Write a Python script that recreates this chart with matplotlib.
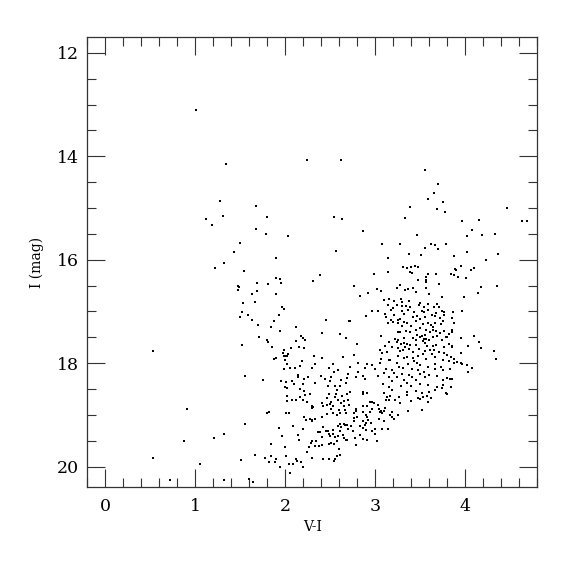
import matplotlib
matplotlib.use("Agg")
import matplotlib.pyplot as plt
from matplotlib.ticker import MultipleLocator
import numpy as np

# (V-I, I) pairs, grouped by region of the diagram
blue_sparse = [
    (1.008, 13.10), (1.338, 14.15), (1.271, 14.856), (1.115, 15.211), (1.308, 15.146),
    (1.189, 15.333), (1.501, 15.682), (1.427, 15.856), (1.315, 16.068), (1.215, 16.152),
    (1.538, 16.210), (1.478, 16.50), (1.486, 16.526), (1.471, 16.584),
    (1.530, 16.842), (1.523, 17.004), (1.497, 17.107), (1.589, 17.068), (0.527, 17.771),
    (1.519, 17.648), (1.549, 18.242), (0.904, 18.880), (1.556, 19.176), (1.208, 19.441),
    (1.315, 19.363), (0.871, 19.499), (0.527, 19.840), (1.508, 19.866), (1.049, 19.950),
    (0.723, 20.253), (1.319, 20.266), (1.601, 20.247),
]

upper_mid = [
    (2.245, 14.070), (2.619, 14.070), (1.675, 14.953), (1.797, 15.166), (2.545, 15.166),
    (2.634, 15.217), (1.675, 15.404), (1.786, 15.507), (2.034, 15.533), (2.560, 15.836),
    (1.901, 15.965), (2.386, 16.300), (2.315, 16.404), (1.901, 16.358), (1.941, 16.378),
    (1.689, 16.455), (1.808, 16.468), (1.952, 16.449), (2.766, 16.50),
]

upper_red = [
    (3.560, 14.269), (3.697, 14.540), (3.652, 14.708), (3.589, 14.830), (3.760, 14.888),
    (3.386, 14.978), (3.686, 15.017), (3.778, 15.069), (4.471, 15.004), (3.330, 15.198),
    (3.971, 15.249), (4.156, 15.230), (4.637, 15.249), (4.686, 15.249), (4.074, 15.423),
    (2.867, 15.443), (3.463, 15.527), (4.023, 15.546), (4.186, 15.527), (4.337, 15.494),
    (3.078, 15.700), (3.278, 15.688), (3.619, 15.700), (3.663, 15.707), (3.552, 15.765),
    (3.697, 15.784), (3.789, 15.688), (3.145, 15.971), (3.374, 15.894), (3.515, 15.913),
    (3.874, 15.926), (4.019, 15.849), (4.363, 15.887), (4.230, 16.010), (2.993, 16.268),
    (3.145, 16.242), (3.311, 16.132), (3.360, 16.152), (3.397, 16.145), (3.441, 16.113),
    (3.478, 16.132), (3.393, 16.236), (3.415, 16.249), (3.482, 16.397), (3.563, 16.326),
    (3.593, 16.268), (3.567, 16.390), (3.571, 16.429), (3.678, 16.281), (3.708, 16.474),
    (3.841, 16.268), (3.874, 16.287), (3.886, 16.178), (3.900, 16.197), (3.923, 16.326),
    (3.956, 16.126), (4.008, 16.352), (4.063, 16.203), (4.097, 16.165), (3.249, 16.539),
    (3.274, 16.494), (3.563, 16.539), (4.174, 16.532), (4.352, 16.513),
]

mid_branch = [
    (1.682, 16.603), (1.630, 16.655), (1.893, 16.661), (1.664, 16.822), (1.964, 16.906),
    (1.982, 16.958), (1.927, 17.061), (1.634, 17.164), (1.875, 17.190), (2.456, 17.170),
    (2.712, 17.190), (1.697, 17.254), (1.845, 17.293), (2.119, 17.299), (1.938, 17.370),
    (2.415, 17.422), (2.615, 17.428), (1.708, 17.486), (2.171, 17.467), (2.193, 17.512),
    (2.219, 17.551), (1.801, 17.557), (1.804, 17.583), (2.119, 17.570), (2.671, 17.506),
    (1.849, 17.693), (2.060, 17.712), (2.149, 17.686), (2.208, 17.706), (1.982, 17.744),
    (1.975, 17.809), (2.034, 17.822), (1.989, 17.860), (2.004, 17.867), (2.019, 17.854),
    (2.323, 17.860), (2.408, 17.899), (2.641, 17.873), (1.897, 17.899), (1.875, 17.925),
    (2.001, 17.931), (2.189, 17.957), (2.015, 18.015), (2.334, 18.009), (2.530, 18.021),
    (2.164, 18.047), (2.115, 18.092), (2.052, 18.099), (1.989, 18.105), (2.293, 18.099),
    (2.489, 18.099), (2.586, 18.131), (2.719, 18.073), (2.538, 18.176), (2.704, 18.208),
    (2.141, 18.234), (2.138, 18.266), (2.393, 18.254), (2.252, 18.273), (2.445, 18.299),
    (2.215, 18.312), (2.686, 18.292), (2.508, 18.273), (1.756, 18.325), (1.952, 18.350),
    (2.008, 18.370), (2.071, 18.350), (2.093, 18.395), (2.334, 18.389), (2.193, 18.395),
    (2.504, 18.337), (2.623, 18.325), (2.675, 18.383), (2.001, 18.460), (2.471, 18.434),
    (2.549, 18.434), (2.608, 18.441),
]

red_clump = [
    (2.92, 16.64), (3.02, 16.56), (3.07, 16.61), (3.33, 16.58), (3.37, 16.56),
    (3.42, 16.55), (3.46, 16.63), (3.60, 16.66), (2.83, 16.71),
    (3.10, 16.77), (3.16, 16.76), (3.21, 16.80), (3.29, 16.76), (3.30, 16.82),
    (3.38, 16.80), (3.50, 16.83), (3.59, 16.86), (3.69, 16.85), (3.74, 16.73),
    (3.14, 16.87), (3.24, 16.87), (3.30, 16.89), (3.34, 16.90), (3.39, 16.91),
    (3.49, 16.87), (3.54, 16.92), (3.65, 16.91), (3.71, 16.92), (3.20, 16.93),
    (2.96, 17.00), (3.03, 17.00), (3.18, 16.98), (3.30, 17.00), (3.37, 16.98),
    (3.43, 17.02), (3.52, 17.00), (3.54, 17.02), (3.59, 16.97), (3.68, 17.03),
    (3.74, 17.00), (2.90, 17.09), (3.11, 17.05), (3.21, 17.06), (3.32, 17.05),
    (3.47, 17.09), (3.63, 17.06), (3.12, 17.11), (3.18, 17.16), (3.25, 17.16),
    (3.28, 17.14), (3.42, 17.11), (3.50, 17.14), (3.56, 17.11), (3.67, 17.09),
    (3.72, 17.13), (3.76, 17.18),
    (2.72, 17.19), (3.14, 17.22), (3.20, 17.20), (3.26, 17.22), (3.32, 17.20),
    (3.36, 17.23), (3.45, 17.18), (3.53, 17.24), (3.59, 17.22), (3.62, 17.27),
    (3.67, 17.22), (3.73, 17.25), (3.30, 17.29), (3.40, 17.29), (3.50, 17.32),
    (3.64, 17.31), (3.25, 17.39), (3.28, 17.40), (3.34, 17.38), (3.39, 17.40),
    (3.46, 17.36), (3.57, 17.35), (3.61, 17.40), (3.64, 17.36), (3.68, 17.38),
    (3.72, 17.42), (3.55, 17.45), (3.47, 17.45), (3.52, 17.48),
    (3.07, 17.48), (3.22, 17.53), (3.26, 17.56), (3.32, 17.51), (3.42, 17.51),
    (3.45, 17.55), (3.50, 17.50), (3.53, 17.58), (3.57, 17.53), (3.60, 17.56),
    (3.64, 17.49), (3.69, 17.48), (3.74, 17.56), (3.54, 17.54), (2.80, 17.63),
    (3.16, 17.60), (3.24, 17.60), (3.29, 17.63), (3.32, 17.61), (3.35, 17.63),
    (3.39, 17.64), (3.45, 17.65), (3.55, 17.61), (3.58, 17.67), (3.64, 17.67),
    (3.68, 17.64), (3.11, 17.66), (3.19, 17.68), (3.33, 17.69),
    (3.05, 17.74), (3.13, 17.78), (3.25, 17.71), (3.28, 17.77), (3.31, 17.74),
    (3.38, 17.72), (3.42, 17.78), (3.49, 17.73), (3.55, 17.76), (3.61, 17.75),
    (3.66, 17.74), (3.71, 17.79), (3.08, 17.81), (3.53, 17.82), (3.63, 17.82),
    (2.76, 17.85), (3.07, 17.91), (3.15, 17.93), (3.17, 17.93), (3.26, 17.87),
    (3.32, 17.90), (3.36, 17.88), (3.42, 17.90), (3.48, 17.87), (3.57, 17.91),
    (3.67, 17.88), (3.76, 17.93), (3.43, 17.96),
    (2.81, 17.995), (2.91, 18.02), (2.96, 18.03), (3.05, 18.00), (3.24, 17.99),
    (3.37, 18.02), (3.47, 18.00), (3.50, 18.04), (3.59, 18.07), (3.67, 18.02),
    (3.73, 18.08), (3.27, 18.07), (2.72, 18.07), (2.89, 18.09), (3.00, 18.12),
    (3.12, 18.12), (3.19, 18.14), (3.31, 18.09), (3.41, 18.11), (3.48, 18.13),
    (3.54, 18.17), (3.67, 18.11), (3.76, 18.14), (2.81, 18.18), (3.10, 18.19),
    (3.21, 18.19), (3.30, 18.21), (3.38, 18.22), (3.50, 18.21), (3.60, 18.22),
    (2.79, 18.27), (2.89, 18.30), (3.03, 18.25), (3.15, 18.26), (3.24, 18.27),
    (3.41, 18.27), (3.46, 18.32), (3.56, 18.26), (3.69, 18.24), (3.76, 18.32),
    (3.32, 18.32), (2.87, 18.25), (3.09, 18.40), (3.15, 18.46), (3.19, 18.35),
    (3.29, 18.45), (3.36, 18.38), (3.40, 18.45), (3.50, 18.40), (3.59, 18.43),
    (3.69, 18.47), (3.75, 18.42),
]

red_edge = [
    (4.14, 16.65), (3.99, 16.72), (3.87, 17.02), (3.97, 17.00), (3.77, 17.02),
    (3.77, 17.06), (3.85, 17.13), (3.88, 17.22), (3.86, 17.36), (3.86, 17.39),
    (3.77, 17.38), (3.82, 17.43), (3.79, 17.49), (3.80, 17.50), (4.10, 17.47),
    (3.95, 17.51), (4.16, 17.60), (4.03, 17.66), (4.18, 17.71), (4.32, 17.76),
    (3.82, 17.62), (3.85, 17.67), (3.86, 17.69), (3.77, 17.68), (3.77, 17.80),
    (3.95, 17.80), (3.80, 17.85), (3.84, 17.89), (3.88, 17.92), (4.34, 17.92),
    (3.82, 17.96), (3.91, 17.98), (3.88, 18.00), (3.95, 17.995), (3.97, 18.02),
    (4.02, 18.04), (4.08, 18.09), (3.83, 18.11), (4.03, 18.17), (3.80, 18.29),
    (3.83, 18.31), (3.85, 18.30), (3.84, 18.47), (3.79, 18.58), (3.80, 18.60),
]

lower_mid = [
    (2.015, 18.48), (2.164, 18.49), (2.208, 18.53), (2.275, 18.60), (2.219, 18.62),
    (2.019, 18.63), (2.015, 18.73), (2.075, 18.71), (2.119, 18.71), (2.164, 18.66),
    (2.201, 18.72), (2.245, 18.75), (2.301, 18.83), (2.293, 18.87), (2.312, 18.85),
    (1.793, 18.97), (1.819, 18.95), (2.004, 18.97), (2.038, 18.96), (2.415, 18.77),
    (2.426, 18.82), (2.460, 18.80), (2.497, 18.79), (2.515, 18.76), (2.534, 18.82),
    (2.467, 18.67), (2.482, 18.60), (2.564, 18.60), (2.552, 18.66), (2.589, 18.72),
    (2.626, 18.77), (2.652, 18.82), (2.656, 18.74), (2.700, 18.72), (2.630, 18.63),
    (2.689, 18.60), (2.575, 18.51), (2.508, 18.88), (2.527, 18.96), (2.597, 18.91),
    (2.615, 18.96), (2.578, 19.00), (2.664, 18.91), (2.682, 18.96), (2.212, 19.05),
    (2.230, 19.10), (2.271, 19.07), (2.301, 19.10), (2.334, 19.08), (2.301, 19.12),
    (2.412, 19.05), (2.460, 18.98), (2.712, 18.80), (2.089, 19.22), (2.193, 19.27),
    (1.934, 19.25), (1.967, 19.40), (2.141, 19.38), (2.156, 19.49), (2.367, 19.33),
    (2.389, 19.34), (2.415, 19.43), (2.452, 19.31), (2.478, 19.31), (2.489, 19.36),
    (2.527, 19.37), (2.527, 19.29), (2.497, 19.41), (2.549, 19.43), (2.423, 19.23),
    (2.589, 19.22), (2.615, 19.18), (2.626, 19.24), (2.652, 19.18), (2.667, 19.20),
    (2.689, 19.19), (2.697, 19.28), (2.638, 19.38), (2.652, 19.45), (2.675, 19.48),
    (2.693, 19.49), (2.612, 19.32), (2.589, 19.41), (2.578, 19.50), (2.341, 19.50),
    (2.301, 19.51), (2.289, 19.54), (2.330, 19.61), (2.378, 19.61), (2.415, 19.59),
    (2.482, 19.56), (2.512, 19.54), (2.545, 19.56), (1.838, 19.57), (1.997, 19.63),
    (2.267, 19.63), (2.245, 19.72), (1.664, 19.77), (1.771, 19.83), (1.841, 19.80),
    (1.897, 19.85), (2.004, 19.79), (2.119, 19.85), (2.127, 19.89), (2.171, 19.91),
    (2.293, 19.83), (2.423, 19.85), (2.489, 19.85), (2.556, 19.85), (2.578, 19.80),
    (2.608, 19.77), (2.601, 19.65), (2.541, 19.90), (1.819, 19.91), (1.886, 19.92),
    (2.045, 19.95), (2.089, 19.95), (2.201, 20.01), (1.941, 20.01), (2.052, 20.13),
    (1.645, 20.30),
]

lower_red = [
    (2.72, 18.56), (2.86, 18.56), (2.91, 18.58), (2.87, 18.60), (3.10, 18.58),
    (3.19, 18.51), (3.13, 18.66), (3.17, 18.64), (3.16, 18.71), (3.22, 18.72),
    (3.27, 18.66), (3.28, 18.77), (3.36, 18.56), (3.36, 18.62), (3.40, 18.74),
    (3.46, 18.53), (3.52, 18.58), (3.48, 18.67), (3.50, 18.69), (3.53, 18.66),
    (3.58, 18.64), (3.60, 18.56), (3.59, 18.75), (3.62, 18.67), (3.67, 18.51),
    (3.74, 18.48), (2.79, 18.88), (2.87, 18.83), (2.91, 18.82), (2.94, 18.76),
    (2.96, 18.75), (2.99, 18.77), (3.03, 18.80), (3.04, 18.88), (3.07, 18.92),
    (3.05, 18.94), (3.08, 18.96), (3.10, 18.92), (3.11, 18.87), (3.12, 18.72),
    (3.19, 18.94), (3.19, 19.05), (3.21, 19.07), (3.25, 19.01), (3.17, 19.00),
    (3.37, 18.93), (3.52, 18.91), (2.76, 18.96), (2.79, 18.93), (2.87, 18.94),
    (2.90, 19.00), (2.94, 18.95), (2.97, 18.88), (2.92, 19.10), (2.87, 19.12),
    (2.90, 19.16), (2.95, 19.15), (2.89, 19.19), (2.76, 19.06), (2.77, 19.12),
    (2.80, 19.05), (2.91, 19.05), (3.04, 19.07), (3.10, 19.12), (2.73, 19.22),
    (2.83, 19.22), (2.87, 19.25), (2.90, 19.29), (2.97, 19.31), (3.00, 19.27),
    (3.08, 19.27), (3.14, 19.27), (2.75, 19.32), (2.83, 19.39), (2.87, 19.46),
    (2.91, 19.48), (3.00, 19.37), (3.02, 19.50), (2.78, 19.45), (2.79, 19.58),
]

groups = [blue_sparse, upper_mid, upper_red, mid_branch, red_clump, red_edge, lower_mid, lower_red]
pts = np.array([p for g in groups for p in g])
vi = pts[:, 0]
imag = pts[:, 1]

plt.rcParams['font.family'] = ['DejaVu Serif']

fig = plt.figure(figsize=(5.75, 5.75), dpi=100)
ax = fig.add_axes([0.1518, 0.1525, 0.7821, 0.7826])

ax.plot(vi, imag, linestyle='none', marker='s', markersize=1.8,
        color='black', markeredgewidth=0)

ax.set_xlim(-0.2, 4.8)
ax.set_ylim(20.4, 11.7)

ax.xaxis.set_major_locator(MultipleLocator(1))
ax.xaxis.set_minor_locator(MultipleLocator(0.2))
ax.yaxis.set_major_locator(MultipleLocator(2))
ax.yaxis.set_minor_locator(MultipleLocator(0.5))

ax.tick_params(which='both', direction='in', top=True, right=True, width=0.8,
               color='#333333')
ax.tick_params(which='major', length=13, labelsize=12.5)
ax.tick_params(axis='x', which='major', pad=8)
ax.tick_params(axis='y', which='major', pad=6)
ax.tick_params(which='minor', length=6.5)
for s in ax.spines.values():
    s.set_linewidth(0.9)
    s.set_color('#333333')

ax.set_xlabel('V-I', fontsize=10, labelpad=3)
ax.set_ylabel('I (mag)', fontsize=10, labelpad=9)

fig.savefig('out.png', dpi=100)
